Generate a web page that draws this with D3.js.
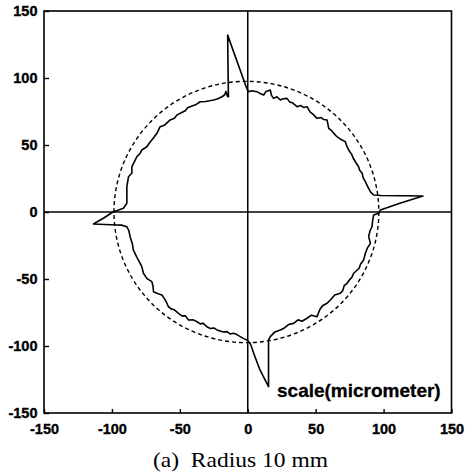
<!DOCTYPE html>
<html>
<head>
<meta charset="utf-8">
<script src="https://cdn.jsdelivr.net/npm/d3@7"></script>
<style>
  html, body { margin: 0; padding: 0; background: #fff; }
  svg { display: block; }
</style>
</head>
<body>
<svg id="chart" width="471" height="475"></svg>
<script>
// ---------- data ----------
const xTicks = [-150, -100, -50, 0, 50, 100, 150];
const yTicks = [-150, -100, -50, 0, 50, 100, 150];
const refCircleCenter = [-1, 0];
const refCircleRadius = 97.5;
const unitLabel = "scale(micrometer)";
const caption = "(a)  Radius 10 mm";
// measured roundness profile [x, y] in micrometers
const profile = [
  [-0.8, 92.3], [0.6, 89.8], [3, 90.5], [6.8, 89.8], [9, 88.5], [11.7, 87.3], [13.5, 90], [16.6, 91],
  [17.5, 87], [19, 84.8], [21.5, 86], [24, 83.6], [26, 84.5], [28.9, 84.8], [31, 82], [33, 81.5],
  [36.3, 78.6], [39, 79.5], [41, 78], [43.6, 78.6], [46, 74.5], [48, 73], [51, 69.9], [54, 70.5],
  [56, 69], [58.4, 68.7], [59.6, 62.4], [62, 60.5], [63.5, 58.5], [65.7, 56.2], [68, 54.5],
  [71.8, 52.5], [73, 49], [74.3, 46.3], [76.5, 43], [77.5, 40.5], [79.2, 37.5], [81.5, 34],
  [82.5, 31], [84.2, 28.9], [85, 25.5], [86.6, 22.6], [88.5, 18.5], [90.5, 14.8], [92.7, 12.7],
  [98, 12.3], [129, 11.9], [112, 6.5], [97.6, 1.5], [96.4, -1], [92.7, -2.2], [92, -6], [91.5, -11],
  [90, -14], [89, -18.4], [90.3, -23.4], [88, -27], [86.6, -30.8], [85.3, -35.8], [83, -39],
  [82, -42], [78, -45.7], [76.5, -49], [75, -50.5], [73.1, -53.2], [71, -55], [70, -58.5],
  [68.2, -60.7], [64, -62], [61, -65.5], [58.4, -68.1], [55, -70], [53, -73], [51, -78.1],
  [47, -77], [43.6, -79.3], [40, -81.5], [37, -80.5], [33.8, -83.1], [30, -84], [27, -86.5],
  [24, -88], [20, -89.5], [16.6, -93], [15.3, -95.5], [15.3, -130.4], [9, -117.9], [5.3, -108],
  [1.8, -98], [-0.6, -95.5], [-3, -94.5], [-5.5, -93], [-8, -91.5], [-10.5, -90.5], [-13, -91],
  [-15.3, -89.3], [-18, -89.5], [-22.7, -88], [-25, -86.5], [-27.5, -87], [-30.1, -85.6],
  [-33, -83], [-35, -83.5], [-37.4, -81.9], [-40, -80.5], [-43.6, -80.6], [-46, -77.5],
  [-48.5, -77.5], [-51, -75.6], [-54, -73], [-56, -72.5], [-58.4, -70.7], [-60, -67],
  [-61.5, -64.5], [-63.2, -61.9], [-66, -61], [-69.4, -59.5], [-69.8, -55], [-70.6, -52],
  [-73, -50.5], [-74.3, -49.5], [-76.8, -45.7], [-78, -40.8], [-79.2, -38.3], [-81.5, -34],
  [-84.2, -28.4], [-85, -23.5], [-86.6, -18.4], [-87.5, -14], [-89, -11], [-93, -9.8],
  [-96.4, -9.7], [-113.6, -9], [-106, -4.5], [-98.9, 0.2], [-95, 1.5], [-91.5, 2.8], [-89, 6.5],
  [-89, 9], [-89, 18.9], [-87.8, 26.3], [-86.6, 27.6], [-85.3, 28.9], [-85.3, 33.8],
  [-81.6, 41.3], [-79.2, 43.8], [-78, 46.3], [-74.3, 48.7], [-72, 52], [-70, 54.5],
  [-66.9, 58.7], [-64.5, 63.7], [-61, 65], [-57.1, 68.7], [-54, 70], [-52, 72.5], [-49.7, 73.7],
  [-46, 75.5], [-44, 78], [-42.4, 78.6], [-38.5, 80], [-35, 82.3], [-31, 82.5], [-28, 83],
  [-25.2, 83.6], [-22, 84.5], [-19, 86], [-17, 87.5], [-16, 90], [-15, 86.5], [-14.2, 86],
  [-14.3, 91], [-14.8, 132], [-0.8, 92.3]
];

// ---------- layout ----------
const svg = d3.select("#chart");
const plotLeft = 44, plotRight = 451.5, plotTop = 11, plotBottom = 413;
const x = d3.scaleLinear().domain([-150, 150]).range([plotLeft, plotRight]);
const y = d3.scaleLinear().domain([-150, 150]).range([plotBottom, plotTop]);

const tickFont = "'Liberation Sans', Arial, Helvetica, sans-serif";

// frame
svg.append("rect")
  .attr("x", plotLeft).attr("y", plotTop)
  .attr("width", plotRight - plotLeft).attr("height", plotBottom - plotTop)
  .attr("fill", "none").attr("stroke", "#000").attr("stroke-width", 1.6);

// axes
const gx = svg.append("g").attr("transform", `translate(0,${plotBottom})`)
  .call(d3.axisBottom(x).tickValues(xTicks).tickSizeInner(-4).tickSizeOuter(0).tickPadding(11)
    .tickFormat(d3.format("d")));
const gy = svg.append("g").attr("transform", `translate(${plotLeft},0)`)
  .call(d3.axisLeft(y).tickValues(yTicks).tickSizeInner(-5).tickSizeOuter(0).tickPadding(6.5)
    .tickFormat(d3.format("d")));
[gx, gy].forEach(g => {
  g.select(".domain").remove();
  g.selectAll(".tick line").attr("stroke", "#000").attr("stroke-width", 1.4);
  g.selectAll(".tick text")
    .attr("fill", "#000")
    .attr("stroke", "#000")
    .attr("stroke-width", 0.35)
    .style("font-family", tickFont)
    .style("font-weight", "bold")
    .style("font-size", "14.5px");
});
gx.selectAll(".tick text").text(d => d < 0 ? "-" + Math.abs(d) : String(d));
gy.selectAll(".tick text").text(d => d < 0 ? "-" + Math.abs(d) : String(d));

// zero lines
svg.append("line")
  .attr("x1", x(-150)).attr("x2", x(150)).attr("y1", y(0)).attr("y2", y(0))
  .attr("stroke", "#000").attr("stroke-width", 1.5);
svg.append("line")
  .attr("x1", x(0)).attr("x2", x(0)).attr("y1", y(-150)).attr("y2", y(150))
  .attr("stroke", "#000").attr("stroke-width", 1.5);

// reference circle (dashed)
svg.append("ellipse")
  .attr("cx", x(refCircleCenter[0])).attr("cy", y(refCircleCenter[1]))
  .attr("rx", x(refCircleRadius) - x(0))
  .attr("ry", y(0) - y(refCircleRadius))
  .attr("fill", "none").attr("stroke", "#000").attr("stroke-width", 1.4)
  .attr("stroke-dasharray", "4,3");

// measured profile
const line = d3.line().x(d => x(d[0])).y(d => y(d[1]));
svg.append("path")
  .datum(profile)
  .attr("d", line)
  .attr("fill", "none").attr("stroke", "#000").attr("stroke-width", 1.6)
  .attr("stroke-linejoin", "round");

// unit label
svg.append("text")
  .attr("x", 277).attr("y", 397)
  .attr("fill", "#000")
  .attr("stroke", "#000")
  .attr("stroke-width", 0.3)
  .style("font-family", tickFont)
  .style("font-weight", "bold")
  .style("font-size", "19px")
  .text(unitLabel);

// caption
svg.append("text")
  .attr("x", 153).attr("y", 467)
  .attr("fill", "#000")
  .attr("textLength", 175)
  .attr("lengthAdjust", "spacingAndGlyphs")
  .style("font-family", "'Liberation Serif', 'Times New Roman', serif")
  .style("font-size", "21px")
  .style("white-space", "pre")
  .text(caption);
</script>
</body>
</html>
